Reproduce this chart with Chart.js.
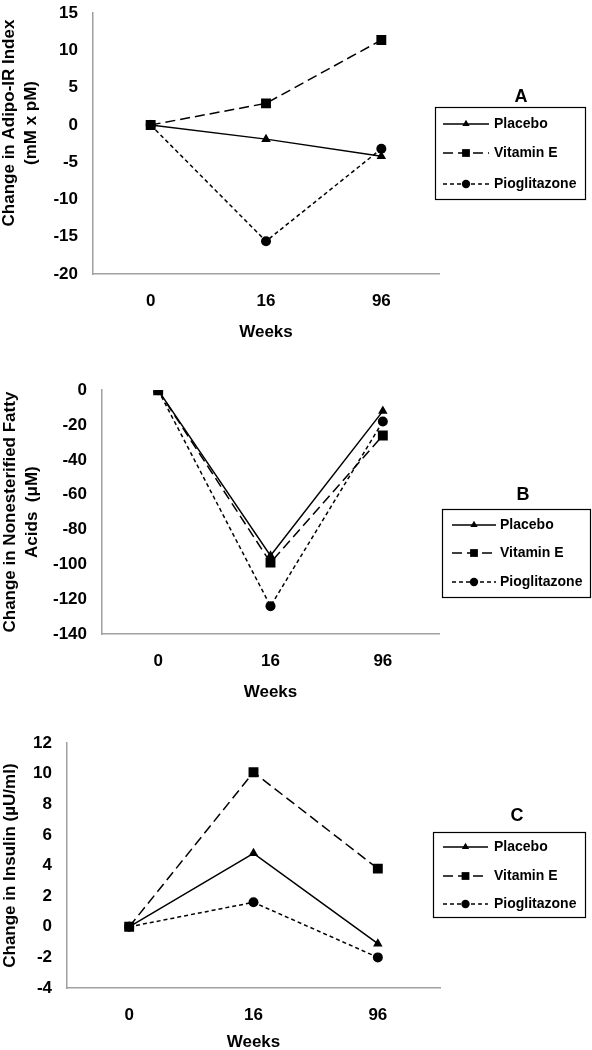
<!DOCTYPE html>
<html>
<head>
<meta charset="utf-8">
<script src="https://cdn.jsdelivr.net/npm/chart.js@4/dist/chart.umd.min.js"></script>
<style>
  html, body { margin: 0; padding: 0; background: #fff; width: 592px; height: 1050px; overflow: hidden; position: relative; }
  canvas { position: absolute; left: 0; }
</style>
</head>
<body>
<canvas id="cA" width="592" height="356" style="top:-12px"></canvas>
<canvas id="cB" width="592" height="339" style="top:365px"></canvas>
<canvas id="cC" width="592" height="336" style="top:718px"></canvas>
<script>
// ---------- data ----------
const weeks = ['0', '16', '96'];
const seriesNames = ['Placebo', 'Vitamin E', 'Pioglitazone'];

const placeboA = [0, -1.9, -4.2];
const vitaminEA = [0, 2.9, 11.4];
const pioglitazoneA = [0, -15.6, -3.2];

const placeboB = [0, -95, -12];
const vitaminEB = [0, -99, -26];
const pioglitazoneB = [0, -124, -18];

const placeboC = [0, 4.8, -1.1];
const vitaminEC = [0, 10.1, 3.8];
const pioglitazoneC = [0, 1.6, -2.0];

const yTitleA = ['Change in Adipo-IR Index', '(mM x pM)'];
const yTitleB = ['Change in Nonesterified Fatty', 'Acids  (\u03bcM)'];
const yTitleC = 'Change in Insulin (\u00b5U/ml)';
const xTitle = 'Weeks';

// ---------- styling ----------
const FONT = '"Liberation Sans", Arial, Helvetica, sans-serif';
Chart.defaults.font.family = FONT;
Chart.defaults.font.weight = 'bold';
Chart.defaults.color = '#000';

const styles = [
  { pointStyle: 'triangle', borderDash: [], pointRadius: 5.5 },
  { pointStyle: 'rect', borderDash: [10, 5], pointRadius: 7 },
  { pointStyle: 'circle', borderDash: [4, 3], pointRadius: 5 }
];

function makeDatasets(arrs) {
  return arrs.map((vals, i) => ({
    label: seriesNames[i],
    data: vals,
    borderColor: '#000',
    backgroundColor: '#000',
    borderWidth: 1.5,
    borderDash: styles[i].borderDash,
    pointStyle: styles[i].pointStyle,
    pointRadius: styles[i].pointRadius,
    pointBackgroundColor: '#000',
    pointBorderColor: '#000',
    pointBorderWidth: 0,
    tension: 0,
    fill: false
  }));
}

function drawMarker(ctx, style, x, y, r) {
  ctx.beginPath();
  if (style === 'triangle') {
    ctx.moveTo(x, y - r);
    ctx.lineTo(x + r * 0.866, y + r * 0.5);
    ctx.lineTo(x - r * 0.866, y + r * 0.5);
    ctx.closePath();
  } else if (style === 'rect') {
    const s = r * Math.SQRT1_2;
    ctx.rect(x - s, y - s, 2 * s, 2 * s);
  } else {
    ctx.arc(x, y, r, 0, Math.PI * 2);
  }
  ctx.fill();
}

const boxLegend = {
  id: 'boxLegend',
  afterDraw(chart, args, o) {
    const ctx = chart.ctx;
    const oy = o.offsetY;
    ctx.save();
    ctx.fillStyle = '#000';
    // custom-placed y-axis title (when the library's centred placement differs from the original)
    if (o.yTitle) {
      ctx.save();
      ctx.translate(o.yTitle.x, o.yTitle.y - oy);
      ctx.rotate(-Math.PI / 2);
      ctx.font = 'bold 17px ' + FONT;
      ctx.textAlign = 'center';
      ctx.textBaseline = 'middle';
      o.yTitle.lines.forEach((l, k) => ctx.fillText(l, 0, k * o.yTitle.lineH));
      ctx.restore();
    }
    ctx.font = 'bold 18px ' + FONT;
    ctx.textAlign = 'center';
    ctx.textBaseline = 'middle';
    ctx.fillText(o.letter, o.letterX, o.letterY - oy);
    ctx.strokeStyle = '#000';
    ctx.lineWidth = 1.2;
    ctx.strokeRect(o.box[0] + 0.5, o.box[1] - oy + 0.5, o.box[2], o.box[3]);
    chart.data.datasets.forEach((ds, i) => {
      const y = o.rows[i] - oy;
      ctx.setLineDash(ds.borderDash || []);
      ctx.lineWidth = ds.borderWidth;
      ctx.strokeStyle = ds.borderColor;
      ctx.beginPath();
      ctx.moveTo(o.lineX0, y);
      ctx.lineTo(o.lineX1, y);
      ctx.stroke();
      ctx.setLineDash([]);
      ctx.fillStyle = '#000';
      drawMarker(ctx, ds.pointStyle, (o.lineX0 + o.lineX1) / 2, y, ds.pointStyle === 'rect' ? 5.5 : 4.2);
      ctx.font = 'bold 14px ' + FONT;
      ctx.textAlign = 'left';
      ctx.textBaseline = 'middle';
      ctx.fillText(ds.label, o.textX, y);
    });
    ctx.restore();
  }
};

function makeChart(id, arrs, yOpts, yTitle, cfg) {
  const el = document.getElementById(id);
  return new Chart(el, {
    type: 'line',
    data: { labels: weeks, datasets: makeDatasets(arrs) },
    plugins: [boxLegend],
    options: {
      responsive: false,
      animation: false,
      events: [],
      layout: { padding: { left: 0, right: 592 - cfg.right, top: 20, bottom: 0 } },
      plugins: {
        legend: { display: false },
        tooltip: { enabled: false },
        boxLegend: cfg.legend
      },
      scales: {
        x: {
          type: 'category',
          offset: true,
          grid: { display: false, drawTicks: false },
          border: { display: true, color: '#a0a0a0', width: 1.5 },
          ticks: { font: { size: 17, weight: 'bold' }, padding: 17, color: '#000' },
          title: { display: true, text: xTitle, font: { size: 17, weight: 'bold' }, color: '#000', padding: { top: 0, bottom: 1 } },
          afterFit(s) { s.height = cfg.xHeight; }
        },
        y: {
          min: yOpts.min, max: yOpts.max,
          grid: { display: false, drawTicks: false },
          border: { display: true, color: '#a0a0a0', width: 1.5 },
          ticks: { stepSize: yOpts.step, font: { size: 17, weight: 'bold' }, padding: 15, color: '#000' },
          title: { display: !cfg.legend.yTitle, text: yTitle, font: { size: 17, weight: 'bold', lineHeight: 1.25 }, color: '#000', padding: { top: 0, bottom: 0 } },
          afterFit(s) { s.width = cfg.left; }
        }
      }
    }
  });
}

makeChart('cA', [placeboA, vitaminEA, pioglitazoneA], { min: -20, max: 15, step: 5 }, yTitleA, {
  left: 93, right: 439, xHeight: 70,
  legend: { offsetY: -12, letter: 'A', letterX: 521, letterY: 97, box: [435, 107, 150, 92], rows: [124, 153, 184], lineX0: 443, lineX1: 489, textX: 494,
            yTitle: { lines: yTitleA, x: 9.5, y: 123, lineH: 21.5 } }
});
makeChart('cB', [placeboB, vitaminEB, pioglitazoneB], { min: -140, max: 0, step: 20 }, yTitleB, {
  left: 102, right: 439, xHeight: 70,
  legend: { offsetY: 365, letter: 'B', letterX: 523, letterY: 495, box: [442, 509, 148, 88], rows: [525, 553, 582], lineX0: 452, lineX1: 496, textX: 500 }
});
makeChart('cC', [placeboC, vitaminEC, pioglitazoneC], { min: -4, max: 12, step: 2 }, yTitleC, {
  left: 67, right: 440, xHeight: 66,
  legend: { offsetY: 718, letter: 'C', letterX: 517, letterY: 816, box: [433, 832, 152, 85], rows: [847, 876, 904], lineX0: 443, lineX1: 488, textX: 494 }
});
</script>
</body>
</html>
